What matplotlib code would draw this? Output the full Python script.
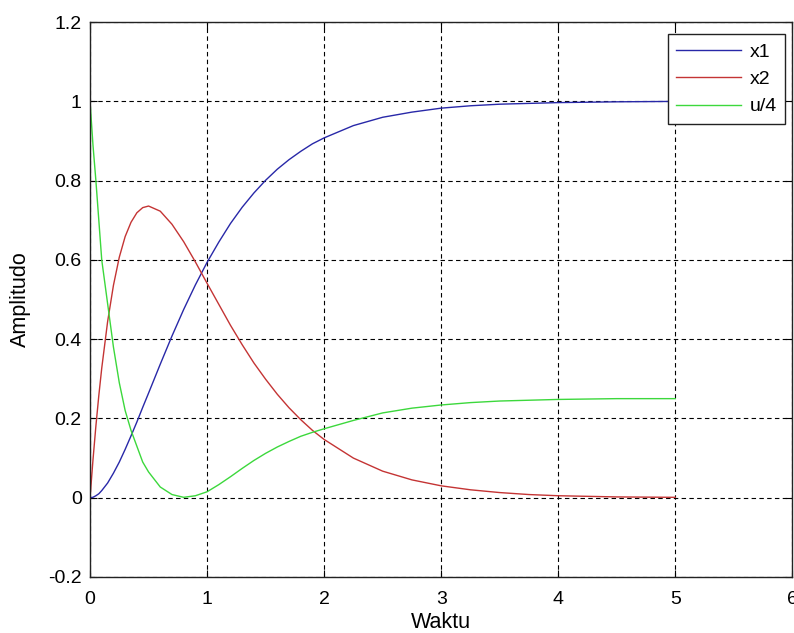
import numpy as np
import matplotlib.pyplot as plt

plt.rcParams['font.family'] = ['Liberation Sans', 'DejaVu Sans']

# values
t = [0, 0.025, 0.05, 0.075, 0.1, 0.15, 0.2, 0.25, 0.3, 0.35, 0.4, 0.45,
     0.5, 0.6, 0.7, 0.8, 0.9, 1.0, 1.1, 1.2, 1.3, 1.4, 1.5, 1.6, 1.7, 1.8,
     1.9, 2.0, 2.25, 2.5, 2.75, 3.0, 3.25, 3.5, 3.75, 4.0, 4.5, 5.0]
x1 = [0, 0.001, 0.005, 0.010, 0.018, 0.037, 0.062, 0.090, 0.122, 0.156,
      0.191, 0.228, 0.264, 0.337, 0.408, 0.475, 0.537, 0.594, 0.645, 0.692,
      0.733, 0.769, 0.801, 0.829, 0.853, 0.874, 0.893, 0.908, 0.939, 0.960,
      0.973, 0.983, 0.989, 0.993, 0.995, 0.997, 0.999, 1.000]
x2 = [0, 0.095, 0.181, 0.258, 0.327, 0.444, 0.536, 0.607, 0.659, 0.695,
      0.719, 0.732, 0.736, 0.723, 0.690, 0.646, 0.595, 0.541, 0.488, 0.435,
      0.386, 0.340, 0.299, 0.261, 0.227, 0.197, 0.170, 0.147, 0.100, 0.067,
      0.045, 0.030, 0.020, 0.013, 0.008, 0.005, 0.002, 0.001]
u4 = [1.0, 0.89, 0.80, 0.70, 0.60, 0.49, 0.38, 0.29, 0.22, 0.17, 0.13,
      0.09, 0.065, 0.027, 0.008, 0.001, 0.005, 0.015, 0.033, 0.053, 0.074,
      0.094, 0.112, 0.128, 0.142, 0.155, 0.165, 0.174, 0.195, 0.214, 0.226,
      0.234, 0.240, 0.244, 0.246, 0.248, 0.250, 0.250]

fig = plt.figure(figsize=(7.94, 6.33), dpi=100)
ax = fig.add_axes([0.1134, 0.0885, 0.8845, 0.8765])

ax.plot(t, x1, color='#2828a8', lw=1.0, label='x1')
ax.plot(t, x2, color='#c43434', lw=1.0, label='x2')
ax.plot(t, u4, color='#3cd83c', lw=1.0, label='u/4')

ax.set_xlim(0, 6)
ax.set_ylim(-0.2, 1.2)
ax.set_xticks(range(0, 7))
ax.set_yticks(np.arange(-0.2, 1.21, 0.2))
ax.set_yticklabels(['-0.2', '0', '0.2', '0.4', '0.6', '0.8', '1', '1.2'])
ax.grid(True, color='black', linestyle=(0, (4, 3)), linewidth=0.8)
ax.tick_params(direction='in', length=5, top=True, right=True, labelsize=14,
               width=0.8)
ax.tick_params(axis='x', pad=10)
ax.tick_params(axis='y', pad=6)
for s in ax.spines.values():
    s.set_linewidth(1.0)
    s.set_color('#222222')

ax.set_xlabel('Waktu', fontsize=15.5, labelpad=3)
ax.set_ylabel('Amplitudo', fontsize=15.5, labelpad=12)

leg = ax.legend(loc='upper right', bbox_to_anchor=(0.990, 0.978),
                borderaxespad=0, fancybox=False, framealpha=1,
                edgecolor='#222222', fontsize=14, handlelength=3.3,
                handletextpad=0.45, labelspacing=0.5, borderpad=0.45)
leg.get_frame().set_linewidth(1.0)

fig.savefig('out.png', dpi=100)
